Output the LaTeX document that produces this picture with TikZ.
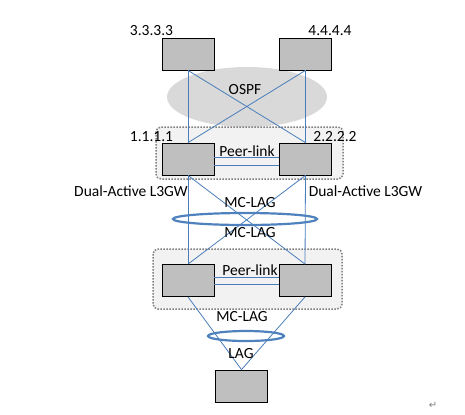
\documentclass[tikz,border=0pt]{standalone}
\usepackage{fontspec}
\setmainfont{Carlito}
\newfontfamily\markfont{DejaVu Sans}
\usepackage{tikz}
\usetikzlibrary{shapes,positioning}
\tikzset{>={stealth}}
\definecolor{LinkBlue}{HTML}{4A7EBB}
\definecolor{LagBlue}{HTML}{4F81BD}
\definecolor{BoxGray}{HTML}{BFBFBF}
\definecolor{AreaGray}{HTML}{D9D9D9}
\definecolor{PairGray}{HTML}{F2F2F2}
\definecolor{DotGray}{HTML}{7F7F7F}
\tikzset{
  switch/.style={draw=black, fill=BoxGray, line width=0.8bp, minimum width=52bp, minimum height=32bp, inner sep=0pt},
  link/.style={draw=LinkBlue, line width=0.8bp},
  txt/.style={inner sep=0pt, font=\fontsize{15.5bp}{18bp}\selectfont},
  pair/.style={draw=DotGray, fill=PairGray, line width=1.5bp, dash pattern=on 1.5bp off 1.5bp, rounded corners=5bp},
  lag/.style={draw=LagBlue, line width=2.2bp}
}

\begin{document}
\begin{tikzpicture}[x=1bp,y=-1bp]
                \useasboundingbox (0,0) rectangle (465,414);
                \fill[AreaGray] (247,97) ellipse (80 and 30);
                \draw[pair] (156,127) rectangle (343,179);
                \draw[pair] (153,249) rectangle (342,309);
                \node[switch] (s3) at (188,54) {};
                \node[switch] (s4) at (305.5,54) {};
                \node[switch] (s1) at (188,159) {};
                \node[switch] (s2) at (305.5,159) {};
                \node[switch] (a1) at (188,280.5) {};
                \node[switch] (a2) at (305,280.5) {};
                \node[switch] (host) at (241.5,386) {};
                \draw[link] (s3.south)--(s1.north);
                \draw[link] (s3.south)--(s2.north);
                \draw[link] (s4.south)--(s1.north);
                \draw[link] (s4.south)--(s2.north);
                \draw[link] ([yshift=2bp]s1.east)--([yshift=2bp]s2.west);
                \draw[link] ([yshift=-6bp]s1.east)--([yshift=-6bp]s2.west);
                \draw[link] (s1.south)--(a1.north);
                \draw[link] (s1.south)--(a2.north);
                \draw[link] (s2.south)--(a1.north);
                \draw[link] (s2.south)--(a2.north);
                \draw[link] ([yshift=3.5bp]a1.east)--([yshift=3.5bp]a2.west);
                \draw[link] ([yshift=-3.5bp]a1.east)--([yshift=-3.5bp]a2.west);
                \draw[link] (a1.south)--(host.north);
                \draw[link] (a2.south)--(host.north);
                \draw[lag] (245,219) ellipse (72 and 6);
                \draw[lag] (246,336) ellipse (38 and 5);
                \node[txt] (ip3) at (151.5,31) {3.3.3.3};
                \node[txt] (ip4) at (330,31) {4.4.4.4};
                \node[txt] (ospf) at (245,90) {OSPF};
                \node[txt] (ip1) at (151.5,137) {1.1.1.1};
                \node[txt] (ip2) at (335,137) {2.2.2.2};
                \node[txt] (peer1) at (247,151) {Peer-link};
                \node[txt] (gw1) at (131,191) {Dual-Active L3GW};
                \node[txt] (gw2) at (365.5,191) {Dual-Active L3GW};
                \node[txt] (mclag1) at (250,203) {MC-LAG};
                \node[txt] (mclag2) at (250,233) {MC-LAG};
                \node[txt] (peer2) at (250,270) {Peer-link};
                \node[txt] (mclag3) at (242,317) {MC-LAG};
                \node[txt] (lagtxt) at (241,354) {LAG};
                \node[inner sep=0pt, text=DotGray, font=\markfont\fontsize{10bp}{11bp}\selectfont] (ret) at (433,405) {↵};
            \end{tikzpicture}
\end{document}
